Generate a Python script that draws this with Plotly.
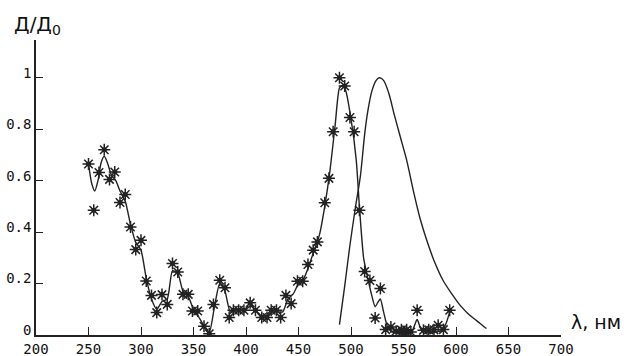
import plotly.graph_objects as go

# Absorption spectrum: measured points (stars)
star_wl = [250, 255, 260, 265, 270, 275, 280, 285, 290, 295, 300, 305, 310, 315, 320,
           325, 330, 335, 340, 345, 349, 354, 360, 365, 369, 375, 380, 384, 388, 393,
           398, 404, 409, 415, 420, 424, 429, 433, 438, 443, 449, 454, 459, 464, 468,
           475, 479, 483, 489, 494, 499, 503, 508, 513, 518, 523, 528, 533, 538, 543,
           548, 551, 553, 557, 563, 569, 574, 579, 583, 588, 594]
star_val = [0.665, 0.485, 0.632, 0.72, 0.605, 0.634, 0.515, 0.546, 0.42, 0.332, 0.368, 0.21,
            0.154, 0.087, 0.157, 0.119, 0.278, 0.245, 0.158, 0.158, 0.093, 0.093, 0.034,
            0.005, 0.119, 0.213, 0.184, 0.068, 0.096, 0.096, 0.096, 0.125, 0.096, 0.068,
            0.068, 0.096, 0.096, 0.068, 0.154, 0.122, 0.209, 0.209, 0.274, 0.33, 0.362,
            0.514, 0.609, 0.79, 1.0, 0.968, 0.846, 0.79, 0.485, 0.247, 0.212, 0.066, 0.181,
            0.021, 0.031, 0.015, 0.02, 0.005, 0.02, 0.012, 0.096, 0.018, 0.02, 0.02, 0.038,
            0.021, 0.096]

# Smoothed absorption curve
abs_wl = [250, 253, 256, 259, 262, 265, 268, 272, 276, 280, 285, 290, 295, 300, 305, 310,
          315, 320, 325, 330, 335, 340, 345, 350, 355, 360, 365, 370, 375, 380, 385, 390,
          395, 400, 405, 410, 415, 420, 425, 430, 435, 440, 445, 450, 455, 460, 465, 470,
          475, 480, 485, 489, 492, 495, 500, 505, 508, 512, 516, 520, 523, 526, 528, 531,
          535, 540, 550, 558, 563, 567, 575, 585, 590, 594]
abs_val = [0.665, 0.59, 0.56, 0.6, 0.67, 0.695, 0.67, 0.62, 0.6, 0.56, 0.52, 0.43, 0.36,
           0.33, 0.22, 0.14, 0.10, 0.13, 0.14, 0.25, 0.24, 0.17, 0.15, 0.10, 0.07, 0.035,
           0.01, 0.11, 0.20, 0.17, 0.09, 0.095, 0.095, 0.10, 0.115, 0.09, 0.075, 0.075,
           0.09, 0.09, 0.09, 0.14, 0.16, 0.2, 0.22, 0.27, 0.33, 0.39, 0.5, 0.64, 0.82, 0.96,
           0.97, 0.95, 0.84, 0.68, 0.5, 0.3, 0.22, 0.15, 0.11, 0.13, 0.14, 0.09, 0.03, 0.01,
           0.01, 0.015, 0.06, 0.02, 0.01, 0.015, 0.04, 0.09]

# Emission spectrum
em_wl = [489, 494, 499, 504, 509, 513, 516, 520, 524, 527, 531, 536, 541, 547, 553, 560,
         566, 572, 579, 588, 596, 604, 611, 617, 623, 629]
em_val = [0.04, 0.19, 0.35, 0.49, 0.62, 0.78, 0.87, 0.95, 0.99, 1.0, 0.99, 0.94, 0.86, 0.77,
          0.68, 0.55, 0.45, 0.37, 0.29, 0.21, 0.16, 0.115, 0.085, 0.064, 0.045, 0.025]

x_ticks = [200, 250, 300, 350, 400, 450, 500, 550, 600, 650, 700]
y_ticks = [0, 0.2, 0.4, 0.6, 0.8, 1]
y_tick_text = ["0", "0.2", "0.4", "0.6", "0.8", "1"]

ink = "#222222"
fig = go.Figure()
fig.add_trace(go.Scatter(x=abs_wl, y=abs_val, mode="lines",
                         line=dict(color=ink, width=1.4, shape="spline", smoothing=0.6)))
fig.add_trace(go.Scatter(x=em_wl, y=em_val, mode="lines",
                         line=dict(color=ink, width=1.4, shape="spline", smoothing=0.8)))
fig.add_trace(go.Scatter(x=star_wl, y=star_val, mode="markers",
                         marker=dict(symbol="circle", size=5, color=ink)))
fig.add_trace(go.Scatter(x=star_wl, y=star_val, mode="markers",
                         marker=dict(symbol="asterisk-open", size=10, color=ink,
                                     line=dict(color=ink, width=1.5))))

tick_font = dict(family="DejaVu Sans Mono", size=14, color="#111111")
fig.update_layout(
    width=624, height=356,
    margin=dict(l=36, r=63, t=40, b=21),
    paper_bgcolor="white", plot_bgcolor="white",
    showlegend=False,
    xaxis=dict(range=[200, 700], tickvals=x_ticks, ticks="inside", ticklen=8,
               tickcolor=ink, tickwidth=1, showgrid=False, zeroline=False,
               showline=True, linecolor=ink, linewidth=2, tickfont=tick_font,
               automargin=False),
    yaxis=dict(range=[0, 1.147], tickvals=y_ticks, ticktext=y_tick_text,
               ticks="inside", ticklen=7, tickcolor=ink, tickwidth=1,
               showgrid=False, zeroline=False, showline=True, linecolor=ink,
               linewidth=1.5, tickfont=tick_font, automargin=False,
               ticklabelshift=-5),
    annotations=[
        dict(text="Д/Д<sub>0</sub>", xref="paper", yref="paper", x=-0.045, y=1.0,
             xanchor="left", yanchor="bottom", showarrow=False,
             font=dict(family="DejaVu Sans", size=20, color="#111111")),
        dict(text="λ, нм", xref="paper", yref="paper", x=1.015, y=0.0,
             xanchor="left", yanchor="bottom", showarrow=False,
             font=dict(family="DejaVu Sans", size=19, color="#111111")),
    ],
)
fig.write_html("out.html")
